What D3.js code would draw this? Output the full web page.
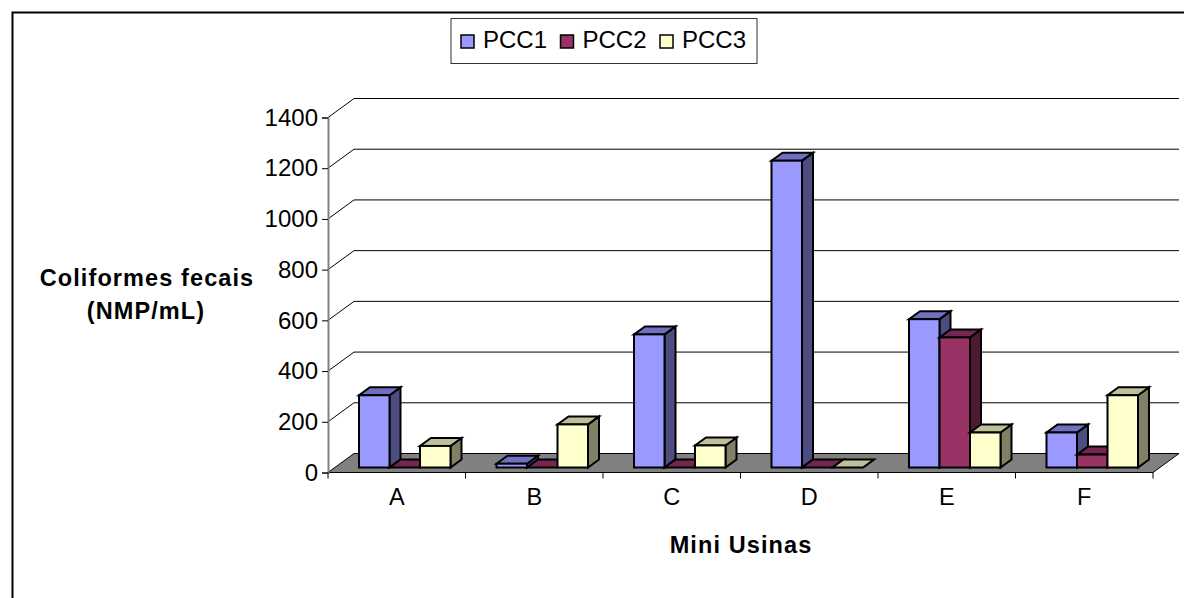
<!DOCTYPE html>
<html>
  <head>
    <meta charset="utf-8"/>
    <title>Coliformes fecais</title>
    <style>
      html, body { margin: 0; padding: 0; background: #fff; }
      svg { display: block; }
      text { font-family: "Liberation Sans", Arial, sans-serif; fill: #000; }
    </style>
    <script src="https://d3js.org/d3.v7.min.js"></script>
  </head>
  <body>
    <svg id="chart" width="1184" height="598"></svg>
    <script>
      var categories = ["A", "B", "C", "D", "E", "F"];
      var seriesNames = ["PCC1", "PCC2", "PCC3"];
      var pcc1 = [285, 15, 525, 1210, 585, 138];
      var pcc2 = [0, 0, 0, 0, 513, 51];
      var pcc3 = [85, 170, 87, 0, 138, 285];
      var yTicks = [0, 200, 400, 600, 800, 1000, 1200, 1400];

      var seriesValues = [pcc1, pcc2, pcc3];
      var fronts = ["#9999ff", "#993366", "#ffffcc"];
      var tops = ["#7070c0", "#732650", "#bfbf99"];
      var sides = ["#4d4d80", "#4d1a33", "#808066"];

      var svg = d3.select("#chart");

      // page frame, only top and left show
      svg.append("path")
        .attr("d", "M12.5,598V12.5H1184")
        .attr("fill", "none").attr("stroke", "#000").attr("stroke-width", 2);

      var x0 = 328, x1 = 1153, y0 = 472.5, y1 = 117.5;
      var depthX = 26, depthY = 19;

      var xScale = d3.scaleBand().domain(categories).range([x0, x1]);
      var yScale = d3.scaleLinear().domain([0, 1400]).range([y0, y1]);

      // bars stand a bit inside the floor
      var barW = 30.5, barDepthX = 11, barDepthY = 8, barOffX = 8, barOffY = 5;
      var groupPad = (xScale.bandwidth() - barW * 3) / 2 + barOffX;

      // back wall lines
      var walls = svg.append("g");
      yTicks.slice(1).forEach(function(t) {
        var y = yScale(t);
        walls.append("path")
          .attr("d", "M" + x0 + "," + y + "l" + depthX + "," + (-depthY) + "H" + (x1 + depthX))
          .attr("fill", "none").attr("stroke", "#000").attr("stroke-width", 1);
      });

      // floor
      svg.append("path")
        .attr("d", "M" + x0 + "," + y0 + "H" + x1 + "l" + depthX + "," + (-depthY) + "H" + (x0 + depthX) + "Z")
        .attr("fill", "#808080").attr("stroke", "#000").attr("stroke-width", 1);

      // axes
      var yAxis = d3.axisLeft(yScale).tickValues(yTicks).tickSize(6).tickPadding(4).tickFormat(d3.format("d"));
      var gy = svg.append("g").attr("transform", "translate(" + x0 + ",0)").call(yAxis);
      gy.selectAll("text").attr("font-size", 24).attr("font-family", "Liberation Sans");
      gy.select(".domain").attr("stroke", "#808080").attr("stroke-width", 2);

      var xAxis = d3.axisBottom(xScale).tickSize(0).tickPadding(16);
      var gx = svg.append("g").attr("transform", "translate(0," + y0 + ")").call(xAxis);
      gx.select(".domain").remove();
      gx.selectAll("text").attr("font-size", 23.5).attr("font-family", "Liberation Sans");
      categories.concat(["end"]).forEach(function(c, i) {
        var tx = x0 + i * xScale.step();
        gx.append("line").attr("x1", tx).attr("x2", tx).attr("y1", 0).attr("y2", 6)
          .attr("stroke", "#000");
      });

      // bars, left to right so later fronts cover earlier sides
      var bars = svg.append("g").attr("stroke", "#000").attr("stroke-width", 2).attr("stroke-linejoin", "miter");
      categories.forEach(function(c, ci) {
        seriesValues.forEach(function(vals, si) {
          var left = xScale(c) + groupPad + si * barW;
          var right = left + barW;
          var base = yScale(0) - barOffY;
          var top = yScale(vals[ci]) - barOffY;
          // side
          bars.append("path")
            .attr("d", "M" + right + "," + base + "V" + top + "l" + barDepthX + "," + (-barDepthY) + "V" + (base - barDepthY) + "Z")
            .attr("fill", sides[si]);
          // top
          bars.append("path")
            .attr("d", "M" + left + "," + top + "H" + right + "l" + barDepthX + "," + (-barDepthY) + "H" + (left + barDepthX) + "Z")
            .attr("fill", tops[si]);
          // front
          if (vals[ci] > 0) {
            bars.append("rect")
              .attr("x", left).attr("y", top).attr("width", barW).attr("height", base - top)
              .attr("fill", fronts[si]);
          }
        });
      });

      // axis titles
      function boldLabel(x, y, s) {
        svg.append("text").attr("x", x).attr("y", y).attr("text-anchor", "middle")
          .attr("font-size", 23.5).attr("font-weight", "bold").attr("letter-spacing", 1.1).text(s);
      }
      boldLabel(147, 286, "Coliformes fecais");
      boldLabel(146, 319, "(NMP/mL)");
      boldLabel(741, 553, "Mini Usinas");

      // legend
      var legend = svg.append("g");
      legend.append("rect").attr("x", 451).attr("y", 18.5).attr("width", 306).attr("height", 45)
        .attr("fill", "#fff").attr("stroke", "#333").attr("stroke-width", 1);
      var legendX = d3.scalePoint().domain(seriesNames).range([461, 660]);
      seriesNames.forEach(function(name, i) {
        legend.append("rect").attr("x", legendX(name)).attr("y", 35).attr("width", 13).attr("height", 13)
          .attr("fill", fronts[i]).attr("stroke", "#000").attr("stroke-width", 1.5);
        legend.append("text").attr("x", legendX(name) + 22).attr("y", 48)
          .attr("font-size", 24).text(name);
      });
    </script>
  </body>
</html>
